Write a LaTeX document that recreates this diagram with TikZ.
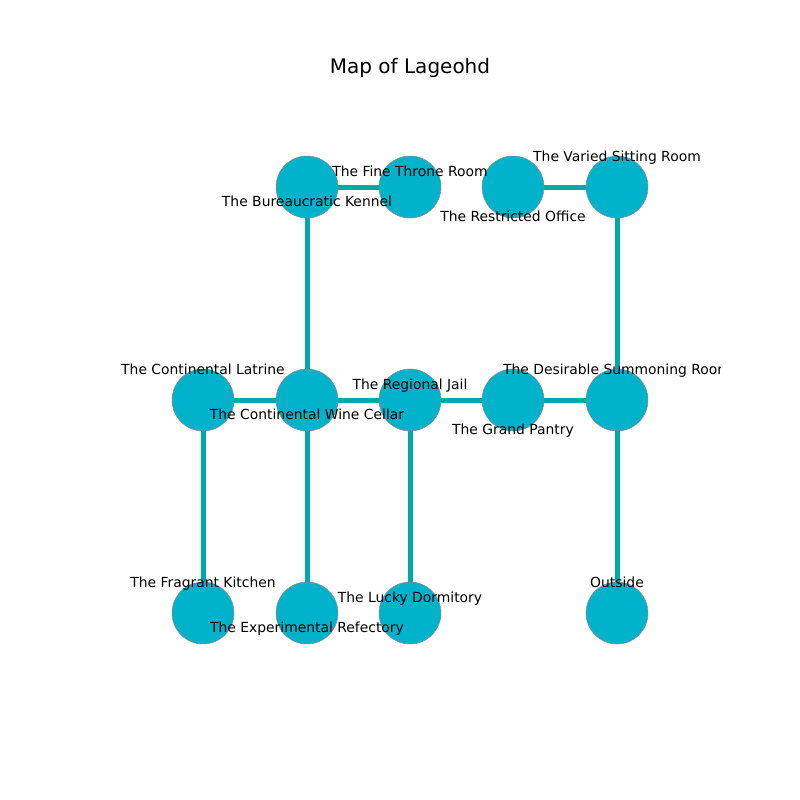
\documentclass[tikz,border=0pt]{standalone}
\usepackage{fontspec}
\setmainfont{DejaVu Sans}
\usetikzlibrary{calc}
\definecolor{roomfill}{RGB}{0,178,202}
\definecolor{hallcolor}{RGB}{0,168,170}
\newcommand{\mapunit}{0.72pt}

\begin{document}
\begin{tikzpicture}[x=\mapunit,y=-\mapunit,
	room/.style={circle,fill=roomfill,draw=black!45,line width=0.4pt,inner sep=0pt,minimum size=44.6pt},
	hall/.style={draw=hallcolor,line width=3.6pt},
	roomname/.style={inner sep=0pt,anchor=base,font=\fontsize{10}{12}\selectfont}]
	\useasboundingbox (0,0) rectangle (800,800);
	\node[font=\fontsize{14.4}{17}\selectfont] (title) at (410,68) {Map of Lageohd};

	\coordinate (kennel) at (307,187);
	\coordinate (throne) at (410,187);
	\coordinate (office) at (513,187);
	\coordinate (sitting) at (617,187);
	\coordinate (latrine) at (203,400);
	\coordinate (cellar) at (307,400);
	\coordinate (jail) at (410,400);
	\coordinate (pantry) at (513,400);
	\coordinate (summoning) at (617,400);
	\coordinate (kitchen) at (203,613);
	\coordinate (refectory) at (307,613);
	\coordinate (dormitory) at (410,613);
	\coordinate (outside) at (617,613);

	% corridors
	\draw[hall] (kennel) -- (throne);
	\draw[hall] (office) -- (sitting);
	\draw[hall] (kennel) -- (cellar);
	\draw[hall] (sitting) -- (summoning);
	\draw[hall] (latrine) -- (cellar) -- (jail) -- (pantry) -- (summoning);
	\draw[hall] (latrine) -- (kitchen);
	\draw[hall] (cellar) -- (refectory);
	\draw[hall] (jail) -- (dormitory);
	\draw[hall] (summoning) -- (outside);

	% rooms
	\node[room] (kennel-r) at (kennel) {};
	\node[room] (throne-r) at (throne) {};
	\node[room] (office-r) at (office) {};
	\node[room] (sitting-r) at (sitting) {};
	\node[room] (latrine-r) at (latrine) {};
	\node[room] (cellar-r) at (cellar) {};
	\node[room] (jail-r) at (jail) {};
	\node[room] (pantry-r) at (pantry) {};
	\node[room] (summoning-r) at (summoning) {};
	\node[room] (kitchen-r) at (kitchen) {};
	\node[room] (refectory-r) at (refectory) {};
	\node[room] (dormitory-r) at (dormitory) {};
	\node[room] (outside-r) at (outside) {};

	\begin{scope}
	\clip (100,96) rectangle (720,704);
	\node[roomname] (kennel-l) at ($(kennel)+(0,19)$) {The Bureaucratic Kennel};
	\node[roomname] (throne-l) at ($(throne)+(0,-11)$) {The Fine Throne Room};
	\node[roomname] (office-l) at ($(office)+(0,34)$) {The Restricted Office};
	\node[roomname] (sitting-l) at ($(sitting)+(0,-26)$) {The Varied Sitting Room};
	\node[roomname] (latrine-l) at ($(latrine)+(0,-26)$) {The Continental Latrine};
	\node[roomname] (cellar-l) at ($(cellar)+(0,19)$) {The Continental Wine Cellar};
	\node[roomname] (jail-l) at ($(jail)+(0,-11)$) {The Regional Jail};
	\node[roomname] (pantry-l) at ($(pantry)+(0,34)$) {The Grand Pantry};
	\node[roomname] (summoning-l) at ($(summoning)+(0,-26)$) {The Desirable Summoning Room};
	\node[roomname] (kitchen-l) at ($(kitchen)+(0,-26)$) {The Fragrant Kitchen};
	\node[roomname] (refectory-l) at ($(refectory)+(0,19)$) {The Experimental Refectory};
	\node[roomname] (dormitory-l) at ($(dormitory)+(0,-11)$) {The Lucky Dormitory};
	\node[roomname] (outside-l) at ($(outside)+(0,-26)$) {Outside};
	\end{scope}
\end{tikzpicture}
\end{document}
